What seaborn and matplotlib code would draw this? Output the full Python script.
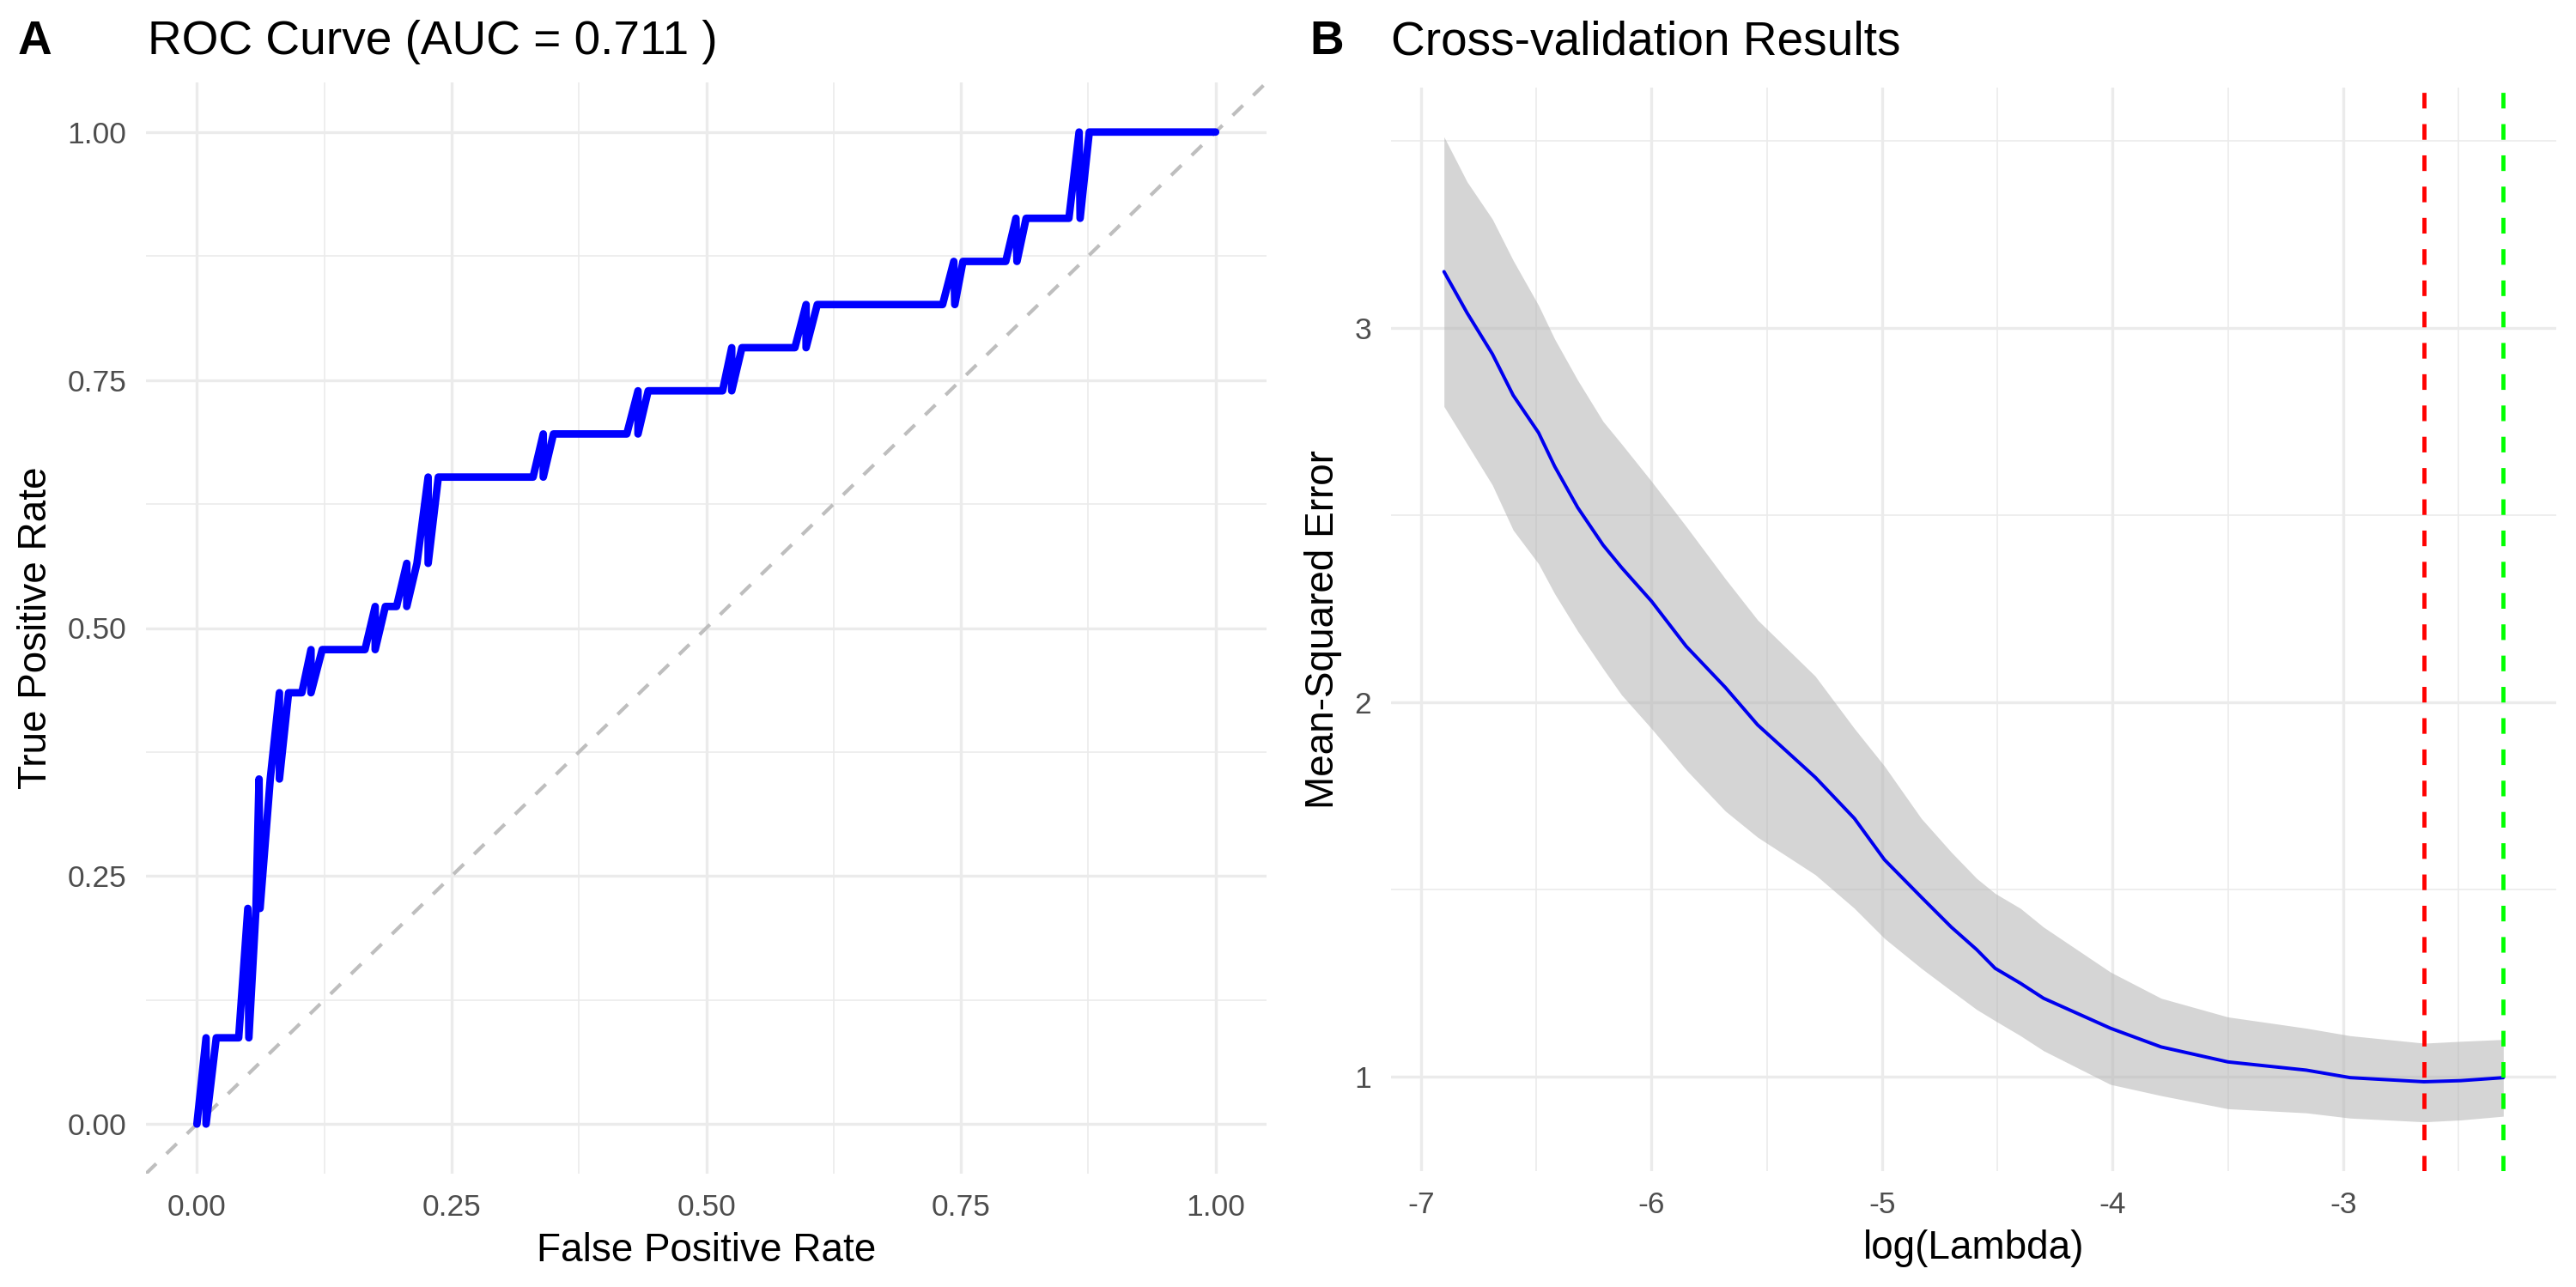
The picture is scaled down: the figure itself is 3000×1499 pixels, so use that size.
import matplotlib
matplotlib.use('Agg')
import matplotlib.pyplot as plt
from matplotlib.ticker import MultipleLocator, FormatStrFormatter
import numpy as np
import seaborn as sns

# ---- panel A: ROC curve vertices (as drawn, in path order) ----
fpr = [0.000, 0.009, 0.009, 0.019, 0.041, 0.050, 0.051, 0.058, 0.061, 0.062,
       0.072, 0.081, 0.081, 0.090, 0.103, 0.112, 0.112, 0.123, 0.165, 0.175,
       0.175, 0.185, 0.196, 0.206, 0.206, 0.216, 0.227, 0.227, 0.237, 0.330,
       0.340, 0.340, 0.350, 0.422, 0.433, 0.433, 0.443, 0.516, 0.525, 0.525,
       0.535, 0.587, 0.598, 0.598, 0.609, 0.732, 0.743, 0.744, 0.752, 0.794,
       0.804, 0.805, 0.814, 0.856, 0.866, 0.867, 0.876, 1.000]
tp_count = [0, 2, 0, 2, 2, 5, 2, 5, 8, 5,
            8, 10, 8, 10, 10, 11, 10, 11, 11, 12,
            11, 12, 12, 13, 12, 13, 15, 13, 15, 15,
            16, 15, 16, 16, 17, 16, 17, 17, 18, 17,
            18, 18, 19, 18, 19, 19, 20, 19, 20, 20,
            21, 20, 21, 21, 23, 21, 23, 23]
n_pos = 23
auc = 0.711

# ---- panel B: cross-validation curve ----
log_lambda = [-6.90, -6.80, -6.69, -6.60, -6.49, -6.42, -6.32, -6.21, -6.13, -6.00,
              -5.85, -5.68, -5.54, -5.29, -5.12, -4.99, -4.83, -4.70, -4.59, -4.51,
              -4.40, -4.30, -4.01, -3.79, -3.50, -3.16, -2.97, -2.65, -2.49, -2.306]
cv_mean = [3.15, 3.04, 2.93, 2.82, 2.72, 2.63, 2.52, 2.42, 2.36, 2.27,
           2.15, 2.04, 1.94, 1.80, 1.69, 1.58, 1.48, 1.40, 1.34, 1.29,
           1.25, 1.21, 1.13, 1.08, 1.04, 1.018, 0.998, 0.987, 0.99, 0.998]
cv_upper = [3.51, 3.39, 3.29, 3.18, 3.06, 2.97, 2.86, 2.75, 2.69, 2.59,
            2.47, 2.33, 2.22, 2.07, 1.93, 1.83, 1.69, 1.60, 1.53, 1.49,
            1.45, 1.40, 1.28, 1.21, 1.16, 1.13, 1.11, 1.09, 1.095, 1.10]
cv_lower = [2.79, 2.69, 2.58, 2.46, 2.37, 2.29, 2.19, 2.09, 2.02, 1.93,
            1.82, 1.71, 1.64, 1.54, 1.45, 1.37, 1.29, 1.23, 1.18, 1.15,
            1.11, 1.07, 0.98, 0.95, 0.915, 0.904, 0.89, 0.88, 0.885, 0.895]
lambda_min = -2.65
lambda_1se = -2.306

tpr = [c / n_pos for c in tp_count]

sns.set_theme(style='whitegrid')
plt.rcParams['font.family'] = ['Liberation Sans', 'DejaVu Sans']
plt.rcParams['axes.unicode_minus'] = False
plt.rcParams['text.color'] = 'black'

W, H = 3000, 1499
fig = plt.figure(figsize=(W / 150, H / 150), dpi=150)
fig.patch.set_facecolor('white')

axA = fig.add_axes([170 / W, 1 - 1367 / H, (1475 - 170) / W, (1367 - 96) / H])
axB = fig.add_axes([1620 / W, 1 - 1364 / H, (2977 - 1620) / W, (1364 - 102) / H])


def style(ax):
    ax.set_facecolor('white')
    for s in ax.spines.values():
        s.set_visible(False)
    ax.set_axisbelow(True)
    ax.grid(True, which='major', color='#EBEBEB', lw=1.6)
    ax.grid(True, which='minor', color='#EBEBEB', lw=0.8)
    ax.tick_params(which='both', length=0, pad=11, labelsize=17, labelcolor='#4D4D4D')


def expand(vals, mult=0.05):
    lo, hi = min(vals), max(vals)
    d = (hi - lo) * mult
    return lo - d, hi + d


# panel A
style(axA)
axA.axline((0, 0), (1, 1), color='#BEBEBE', lw=2.0, ls=(0, (4, 4)), zorder=2)
sns.lineplot(x=fpr, y=tpr, sort=False, estimator=None, ax=axA, color='#0000FF',
             lw=4.2, zorder=3)
axA.lines[-1].set_solid_joinstyle('round')
axA.set_xlim(*expand([0, 1]))
axA.set_ylim(*expand([0, 1]))
for axis in (axA.xaxis, axA.yaxis):
    axis.set_major_locator(MultipleLocator(0.25))
    axis.set_minor_locator(MultipleLocator(0.125))
    axis.set_major_formatter(FormatStrFormatter('%.2f'))
axA.set_xlabel('False Positive Rate', fontsize=22, color='black', labelpad=6)
axA.set_ylabel('True Positive Rate', fontsize=22, color='black', labelpad=7)

# panel B
style(axB)
axB.fill_between(log_lambda, cv_lower, cv_upper, color='#B3B3B3', alpha=0.55,
                 lw=0, zorder=2)
sns.lineplot(x=log_lambda, y=cv_mean, sort=False, estimator=None, ax=axB,
             color='#0000EE', lw=1.9, zorder=3)
axB.axvline(lambda_min, color='#FF0000', lw=2.3, ls=(0, (3.8, 3.8)), zorder=4)
axB.axvline(lambda_1se, color='#00FF00', lw=2.3, ls=(0, (3.8, 3.8)), zorder=4)
axB.set_xlim(*expand(log_lambda))
axB.set_ylim(*expand(cv_lower + cv_upper))
axB.xaxis.set_major_locator(MultipleLocator(1))
axB.xaxis.set_minor_locator(MultipleLocator(0.5))
axB.yaxis.set_major_locator(MultipleLocator(1))
axB.yaxis.set_minor_locator(MultipleLocator(0.5))
axB.xaxis.set_major_formatter(FormatStrFormatter('%d'))
axB.yaxis.set_major_formatter(FormatStrFormatter('%d'))
axB.set_xlabel('log(Lambda)', fontsize=22, color='black', labelpad=6)
axB.set_ylabel('Mean-Squared Error', fontsize=22, color='black', labelpad=7)

# titles and panel tags
base = 1 - 63 / H
fig.text(21 / W, base, 'A', fontsize=26.4, fontweight='bold', va='baseline',
         ha='left', color='black')
fig.text(172 / W, base, f'ROC Curve (AUC = {auc:.3f} )', fontsize=26.4,
         va='baseline', ha='left', color='black')
fig.text(1525 / W, base, 'B', fontsize=26.4, fontweight='bold', va='baseline',
         ha='left', color='black')
fig.text(1620 / W, base, 'Cross-validation Results', fontsize=26.4,
         va='baseline', ha='left', color='black')

fig.savefig('out.png', dpi=150, facecolor='white')
